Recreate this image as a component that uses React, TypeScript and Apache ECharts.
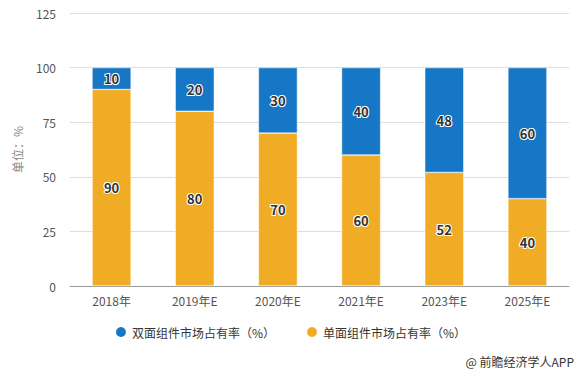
import React, { useEffect, useRef } from "react";
import * as echarts from "echarts";

const categories = ["2018年", "2019年E", "2020年E", "2021年E", "2023年E", "2025年E"];
const singleSided = [90, 80, 70, 60, 52, 40];
const doubleSided = [10, 20, 30, 40, 48, 60];
const seriesNames = ["双面组件市场占有率（%）", "单面组件市场占有率（%）"];
const yTicks = { min: 0, max: 125, interval: 25 };

export default function App() {
  const ref = useRef<HTMLDivElement>(null);
  useEffect(() => {
    const chart = echarts.init(ref.current!, null, { renderer: "svg" });
    const font = "'Microsoft YaHei', 'Noto Sans CJK SC', sans-serif";
    const label = {
      show: true,
      position: "inside",
      color: "#333",
      fontWeight: "bold",
      fontSize: 13,
      fontFamily: font,
      textBorderColor: "#fff",
      textBorderWidth: 2,
    };
    chart.setOption({
      animation: false,
      textStyle: { fontFamily: font },
      grid: { left: 70, right: 11, top: 13, bottom: 84 },
      xAxis: {
        type: "category",
        data: categories,
        axisLine: { lineStyle: { color: "#999" } },
        axisTick: { alignWithLabel: true, lineStyle: { color: "#999" }, length: 5 },
        axisLabel: { color: "#555", fontSize: 12, margin: 8 },
      },
      yAxis: {
        type: "value",
        min: yTicks.min,
        max: yTicks.max,
        interval: yTicks.interval,
        name: "单位：%",
        nameLocation: "middle",
        nameGap: 47,
        nameTextStyle: { color: "#888", fontSize: 12 },
        axisLine: { show: false },
        axisTick: { show: false },
        axisLabel: { color: "#555", fontSize: 12, margin: 14 },
        splitLine: { lineStyle: { color: "#ddd" } },
      },
      legend: {
        bottom: 26,
        left: "center",
        icon: "circle",
        itemWidth: 12,
        itemHeight: 12,
        itemGap: 30,
        textStyle: { color: "#333", fontSize: 12 },
        data: [seriesNames[0], seriesNames[1]],
      },
      graphic: [
        {
          type: "text",
          right: 6,
          bottom: 3,
          style: { text: "@ 前瞻经济学人APP", fill: "#333", fontSize: 12, fontFamily: font },
        },
      ],
      series: [
        {
          name: seriesNames[1],
          type: "bar",
          stack: "total",
          barWidth: 39,
          data: singleSided,
          itemStyle: { color: "#F0AC24", borderColor: "#fff", borderWidth: 0.5 },
          label,
        },
        {
          name: seriesNames[0],
          type: "bar",
          stack: "total",
          barWidth: 39,
          data: doubleSided,
          itemStyle: { color: "#1677C6", borderColor: "#fff", borderWidth: 0.5 },
          label,
        },
      ],
    });
    return () => chart.dispose();
  }, []);
  return <div ref={ref} style={{ width: 580, height: 370, position: "absolute", left: 0, top: 0 }} />;
}
